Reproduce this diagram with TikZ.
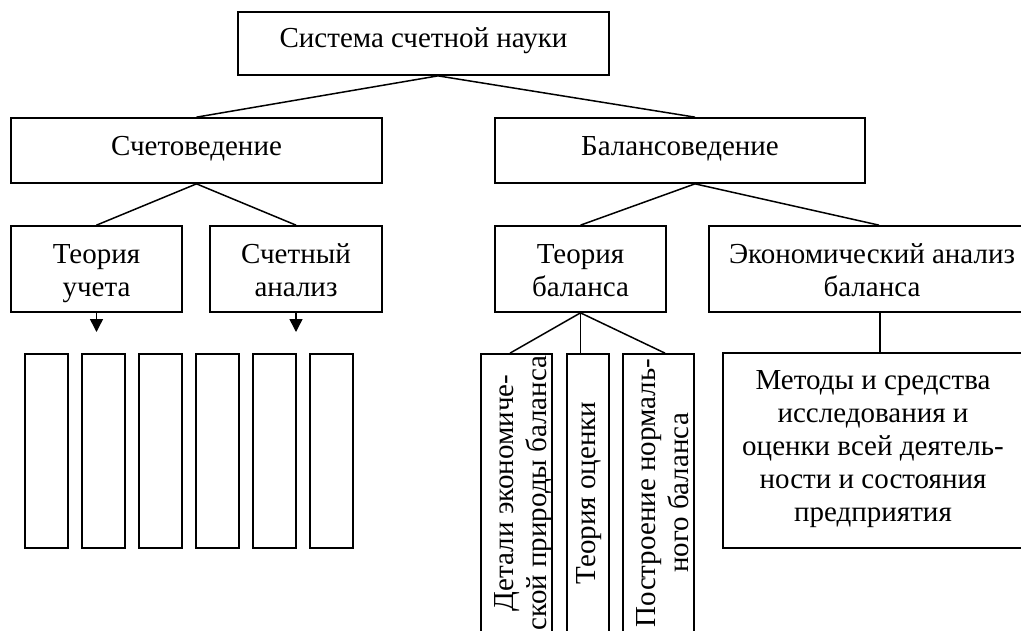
\documentclass[tikz,border=0pt]{standalone}
\usepackage{fontspec}
\setmainfont{Liberation Serif}
\usetikzlibrary{arrows.meta}
\begin{document}
\begin{tikzpicture}[x=1pt,y=-1pt,
  box/.style={draw, line width=1.7pt, inner sep=0pt, align=center, text depth=0pt, font=\fontsize{29pt}{33pt}\selectfont},
  vbox/.style={box, rotate=90},
  blank/.style={draw, line width=1.7pt, inner sep=0pt, minimum width=43pt, minimum height=194pt},
  link/.style={line width=1.5pt},
  arr/.style={line width=1.5pt, -{Triangle[length=13pt,width=13pt]}}]
\useasboundingbox (0,0) rectangle (1021,630);
\clip (0,0) rectangle (1021,630);
% boxes
\node[box, text height=7pt, minimum width=371pt, minimum height=63pt] (top) at (423.5,43.5) {Система счетной науки};
\node[box, text height=9pt, minimum width=371pt, minimum height=65pt] (sch) at (196.5,150.5) {Счетоведение};
\node[box, text height=9pt, minimum width=370pt, minimum height=65pt] (bal) at (680,150.5) {Балансоведение};
\node[box, text height=54pt, minimum width=171pt, minimum height=86pt] (tu) at (96.5,269) {Теория\\учета};
\node[box, text height=54pt, minimum width=172pt, minimum height=86pt] (sa) at (296,269) {Счетный\\анализ};
\node[box, text height=54pt, minimum width=171pt, minimum height=86pt] (tb) at (580.5,269) {Теория\\баланса};
\node[box, text height=54pt, minimum width=326pt, minimum height=86pt] (ea) at (872,269) {Экономический анализ\\баланса};
\node[box, text height=141pt, minimum width=300pt, minimum height=195pt] (md) at (873,450.5) {Методы и средства\\исследования и\\оценки всей деятель-\\ности и состояния\\предприятия};
\node[vbox, text height=59pt, minimum width=278pt, minimum height=71pt] (v1) at (516.5,493) {Детали экономиче-\\ской природы баланса};
\node[vbox, text height=14pt, minimum width=278pt, minimum height=42pt] (v2) at (588,493) {Теория оценки};
\node[vbox, text height=59pt, minimum width=278pt, minimum height=71pt] (v3) at (658.5,493) {Построение нормаль-\\ного баланса};
\foreach \i/\x in {1/46.5,2/103.5,3/160.5,4/217.5,5/274.5,6/331.5}
  \node[blank] (e\i) at (\x,451) {};
% connectors
\draw[link] ([xshift=14.5pt]top.south) -- (sch.north);
\draw[link] ([xshift=14.5pt]top.south) -- ([xshift=15pt]bal.north);
\draw[link] (sch.south) -- (tu.north);
\draw[link] (sch.south) -- (sa.north);
\draw[link] ([xshift=15pt]bal.south) -- (tb.north);
\draw[link] ([xshift=15pt]bal.south) -- ([xshift=7pt]ea.north);
\draw[link] ([xshift=8pt]ea.south) -- ([xshift=7pt]md.north);
\draw[link] (tb.south) -- ([xshift=-6.5pt]v1.east);
\draw[link] (tb.south) -- ([xshift=-7.5pt]v2.east);
\draw[link] (tb.south) -- ([xshift=6.5pt]v3.east);
\coordinate (t1) at (96.5,332);
\coordinate (t2) at (296,332);
\draw[arr] (tu.south) -- (t1);
\draw[arr] (sa.south) -- (t2);
\end{tikzpicture}
\end{document}
